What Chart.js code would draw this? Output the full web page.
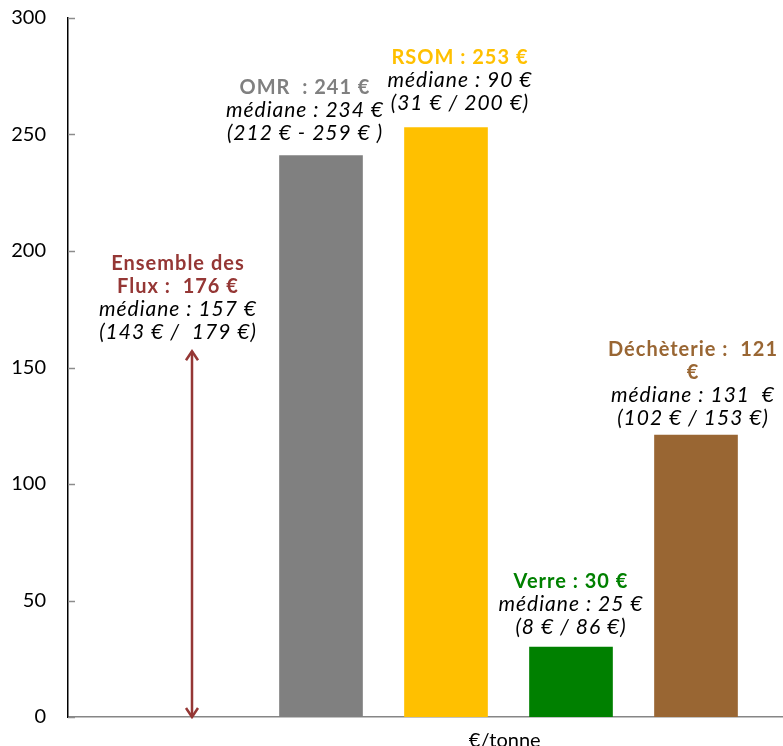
<!DOCTYPE html>
<html>
<head>
<meta charset="utf-8">
<script src="https://cdn.jsdelivr.net/npm/chart.js@4.4.1/dist/chart.umd.min.js"></script>
<style>
  html, body { margin: 0; padding: 0; background: #fff; overflow: hidden; }
  #wrap { width: 783px; height: 746px; }
</style>
</head>
<body>
<div id="wrap"><canvas id="myChart"></canvas></div>
<script>
// Données (€/tonne)
const categories = ['Ensemble des Flux', 'OMR', 'RSOM', 'Verre', 'Déchèterie'];
const couts = [176, 241, 253, 30, 121];
const medianes = [157, 234, 90, 25, 131];
const couleurs = ['#953735', '#808080', '#FFC000', '#008000', '#996633'];
const yTicks = [0, 50, 100, 150, 200, 250, 300];
const xTitre = '€/tonne';

// Textes des étiquettes (première ligne en gras et en couleur)
const titres = [
    ['Ensemble des', 'Flux :  176 €'],
    ['OMR  : 241 €'],
    ['RSOM : 253 €'],
    ['Verre : 30 €'],
    ['Déchèterie :  121', '€'],
];
const details = [
    ['médiane : 157 €', '(143 € /  179 €)'],
    ['médiane : 234 €', '(212 € - 259 € )'],
    ['médiane : 90 €', '(31 € / 200 €)'],
    ['médiane : 25 €', '(8 € / 86 €)'],
    ['médiane : 131  €', '(102 € / 153 €)'],
];
// décalages des étiquettes en pixels [dx, dy]
const decalages = [[-18, 3], [-16, 0], [14, -2], [0, 2], [-3, 5]];

// la première catégorie n'a pas de barre, seulement la flèche
const barres = couts.map((v, i) => ({ x: i + 1, y: i === 0 ? null : v }));

const FONT = 'Lato, "Open Sans", sans-serif';

const etiquettesPlugin = {
    id: 'etiquettes',
    afterDatasetsDraw(chart) {
        const { ctx, scales: { x, y } } = chart;
        ctx.save();

        // petites graduations grises à l'intérieur de l'axe Y
        ctx.strokeStyle = '#8c8c8c';
        ctx.lineWidth = 1.5;
        yTicks.forEach(t => {
            const py = Math.round(y.getPixelForValue(t)) + 0.5;
            ctx.beginPath();
            ctx.moveTo(x.left, py);
            ctx.lineTo(x.left + 7, py);
            ctx.stroke();
        });

        // flèche double "Ensemble des Flux" jusqu'à la médiane
        const ax = x.getPixelForValue(1) - 4;
        const yb = y.getPixelForValue(0);
        const yt = y.getPixelForValue(medianes[0]);
        ctx.strokeStyle = couleurs[0];
        ctx.lineWidth = 2.5;
        ctx.beginPath();
        ctx.moveTo(ax, yb);
        ctx.lineTo(ax, yt);
        ctx.stroke();
        ctx.beginPath();
        ctx.moveTo(ax - 6, yt + 9);
        ctx.lineTo(ax, yt);
        ctx.lineTo(ax + 6, yt + 9);
        ctx.moveTo(ax - 6, yb - 9);
        ctx.lineTo(ax, yb);
        ctx.lineTo(ax + 6, yb - 9);
        ctx.stroke();

        // étiquettes au-dessus des barres
        ctx.textAlign = 'center';
        ctx.textBaseline = 'middle';
        ctx.letterSpacing = '1px';
        const pas = 23;
        categories.forEach((c, i) => {
            const top = i === 0 ? yt : y.getPixelForValue(couts[i]);
            const cx = x.getPixelForValue(i + 1) + decalages[i][0];
            const lignes = titres[i].length + details[i].length;
            let ly = top - 22 + decalages[i][1] - (lignes - 1) * pas;
            titres[i].forEach(t => {
                ctx.font = 'bold 20px ' + FONT;
                ctx.fillStyle = couleurs[i];
                ctx.fillText(t, cx, ly);
                ly += pas;
            });
            details[i].forEach(t => {
                ctx.font = 'italic 21px ' + FONT;
                ctx.fillStyle = '#000';
                ctx.fillText(t, cx, ly);
                ly += pas;
            });
        });
        ctx.restore();
    },
};

const ctx = document.getElementById('myChart').getContext('2d');

new Chart(ctx, {
    type: 'bar',
    data: {
        datasets: [
            {
                data: barres,
                backgroundColor: couleurs,
                barThickness: 83,
            },
        ],
    },
    options: {
        responsive: true,
        maintainAspectRatio: false,
        animation: false,
        layout: { padding: { top: 18, right: 0, left: 0, bottom: 0 } },
        plugins: {
            legend: { display: false },
            tooltip: { enabled: false },
        },
        scales: {
            x: {
                type: 'linear',
                offset: false,
                bounds: 'data',
                min: -0.024,
                max: 5.696,
                grid: { display: false, drawTicks: false, offset: false },
                border: { display: true, color: '#868686', width: 1.5 },
                afterBuildTicks(scale) {
                    scale.ticks = [{ value: 3.47 }];
                },
                afterFit(scale) {
                    scale.height = 29;
                    scale.paddingLeft = 0;
                    scale.paddingRight = 0;
                },
                ticks: {
                    padding: 12,
                    color: '#000',
                    font: { family: FONT, size: 20 },
                    maxRotation: 0,
                    autoSkip: false,
                    callback: () => xTitre,
                },
            },
            y: {
                min: 0,
                max: 300,
                grid: { display: false, drawTicks: false },
                border: { display: true, color: '#000', width: 1.5 },
                afterBuildTicks(scale) {
                    scale.ticks = yTicks.map(v => ({ value: v }));
                },
                afterFit(scale) {
                    scale.width = 68;
                    scale.paddingTop = 0;
                    scale.paddingBottom = 0;
                },
                ticks: {
                    padding: 22,
                    color: '#000',
                    font: { family: FONT, size: 20 },
                },
            },
        },
    },
    plugins: [etiquettesPlugin],
});
</script>
</body>
</html>
